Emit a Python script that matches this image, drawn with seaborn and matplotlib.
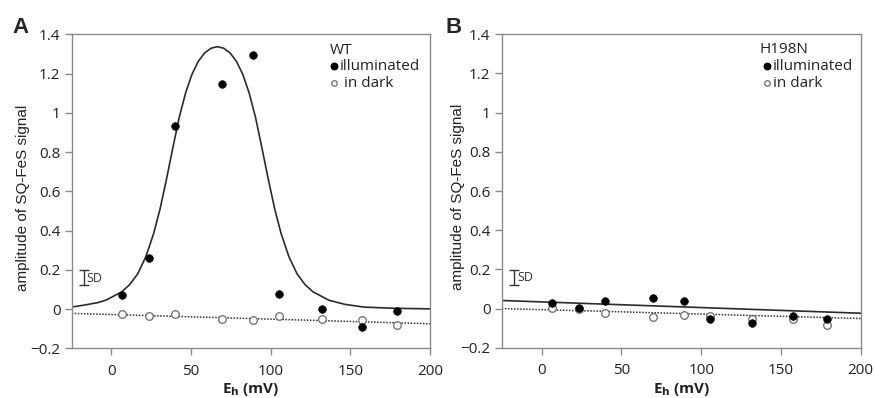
import numpy as np
import pandas as pd
import matplotlib
matplotlib.use("Agg")
import matplotlib.pyplot as plt
import seaborn as sns
from matplotlib.ticker import FuncFormatter

# measured potentials (mV), same for both strains
eh = [6.5, 23.5, 40, 69.5, 89, 105.5, 132, 157.5, 179]

# WT
wt_light = [0.073, 0.261, 0.932, 1.148, 1.294, 0.078, 0.0, -0.092, -0.012]
wt_dark = [-0.027, -0.036, -0.027, -0.049, -0.054, -0.036, -0.049, -0.054, -0.082]
# fitted bell curve
wt_fit_x = [-25, -16.5, -8.5, -3.5, 6.5, 11.5, 16.5, 21.5, 26.5, 30.5, 34.5,
            38.5, 42.5, 46.5, 50.5, 54.5, 58.5, 62.5, 66.5, 70.5, 74.5, 78.5,
            82.5, 86.5, 90.5, 94.5, 98.5, 102.5, 106.5, 111.5, 116.5, 121.5,
            126.5, 136.5, 146.5, 158.5, 176.5, 200]
wt_fit_y = [0.010, 0.021, 0.033, 0.045, 0.088, 0.125, 0.180, 0.265, 0.385,
            0.510, 0.660, 0.820, 0.975, 1.100, 1.195, 1.262, 1.305, 1.329,
            1.337, 1.329, 1.305, 1.262, 1.195, 1.100, 0.975, 0.820, 0.660,
            0.510, 0.385, 0.265, 0.180, 0.125, 0.088, 0.045, 0.024, 0.010,
            0.004, 0.001]
wt_dark_fit_x = [-25, 200]
wt_dark_fit_y = [-0.022, -0.075]

# H198N
h_light = [0.029, 0.003, 0.037, 0.056, 0.037, -0.056, -0.073, -0.039, -0.053]
h_dark = [0.003, 0.0, -0.022, -0.041, -0.031, -0.036, -0.051, -0.056, -0.083]
h_fit_x = [-25, 200]
h_fit_y = [0.041, -0.024]
h_dark_fit_x = [-25, 200]
h_dark_fit_y = [0.0, -0.051]

yticks = [-0.2, 0, 0.2, 0.4, 0.6, 0.8, 1, 1.2, 1.4]
xticks = [0, 50, 100, 150, 200]

sns.set_style("ticks")
plt.rcParams['font.family'] = ['Open Sans', 'DejaVu Sans']

fig = plt.figure(figsize=(8.75, 3.98), dpi=100)
ax_a = fig.add_axes([0.0819, 0.1249, 0.4095, 0.7889])
ax_b = fig.add_axes([0.5734, 0.1264, 0.4103, 0.7874])

SPINE = "#8a8a8a"
TXT = "#222222"


def fmt(v, pos):
    return ("%g" % v).replace("-", "\u2212")


def draw_panel(ax, letter, name, light, dark, fit_x, fit_y, dfit_x, dfit_y,
               letter_x, ylab_x, leg):
    sns.lineplot(x=fit_x, y=fit_y, ax=ax, color="#2b2b2b", lw=1.2, sort=False,
                 estimator=None)
    sns.lineplot(x=dfit_x, y=dfit_y, ax=ax, color="#333333", lw=1.1,
                 linestyle=(0, (1, 1)), sort=False, estimator=None)
    sns.scatterplot(x=eh, y=dark, ax=ax, s=30, facecolor="white",
                    edgecolor="#6a6a6a", linewidth=0.9, zorder=3)
    sns.scatterplot(x=eh, y=light, ax=ax, s=30, color="black",
                    edgecolor="black", linewidth=0.5, zorder=4)

    ax.set_xlim(-25, 200)
    ax.set_ylim(-0.2, 1.4)
    ax.set_xticks(xticks)
    ax.set_yticks(yticks)
    ax.yaxis.set_major_formatter(FuncFormatter(fmt))
    for sp in ax.spines.values():
        sp.set_color(SPINE)
        sp.set_linewidth(1.0)
    ax.tick_params(colors=SPINE, labelcolor=TXT, labelsize=11, length=5,
                   width=1.0)
    ax.tick_params(axis="y", pad=3)
    ax.tick_params(axis="x", pad=6)

    ax.set_ylabel("amplitude of SQ-FeS signal", family="Liberation Sans",
                  fontsize=11, color=TXT)
    ax.yaxis.set_label_coords(ylab_x, 0.48)
    ax.set_xlabel(r"E$_\mathbf{h}$ (mV)", fontweight="bold", fontsize=11,
                  color=TXT, labelpad=2)

    # SD bar
    ax.errorbar([-17.5], [0.160], yerr=[[0.038], [0.038]], fmt="none",
                ecolor="#333333", elinewidth=1.0, capsize=3.5, capthick=1.0)
    ax.text(-15.5, 0.158, "SD", fontsize=9, va="center", ha="left",
            color="#333333")

    # legend drawn as text
    name_x, mark_x, t1_x, t2_x = leg
    ax.text(name_x, 1.32, name, fontsize=11, va="center", ha="left", color=TXT)
    ax.scatter([mark_x], [1.236], s=22, color="black", zorder=5)
    ax.text(t1_x, 1.236, "illuminated", fontsize=11, va="center", ha="left",
            color=TXT)
    ax.scatter([mark_x], [1.15], s=16, facecolor="white", edgecolor="#6a6a6a",
               linewidth=0.9, zorder=5)
    ax.text(t2_x, 1.15, "in dark", fontsize=11, va="center", ha="left",
            color=TXT)

    ax.text(letter_x, 1.004, letter, transform=ax.transAxes, fontsize=16,
            fontweight="bold", family="Liberation Sans", va="baseline",
            ha="left")


draw_panel(ax_a, "A", "WT", wt_light, wt_dark, wt_fit_x, wt_fit_y,
           wt_dark_fit_x, wt_dark_fit_y, -0.165, -0.116,
           (137.0, 139.6, 143.2, 146.2))
draw_panel(ax_b, "B", "H198N", h_light, h_dark, h_fit_x, h_fit_y,
           h_dark_fit_x, h_dark_fit_y, -0.158, -0.102,
           (136.8, 141.3, 145.0, 145.0))

fig.savefig("out.png", dpi=100)
